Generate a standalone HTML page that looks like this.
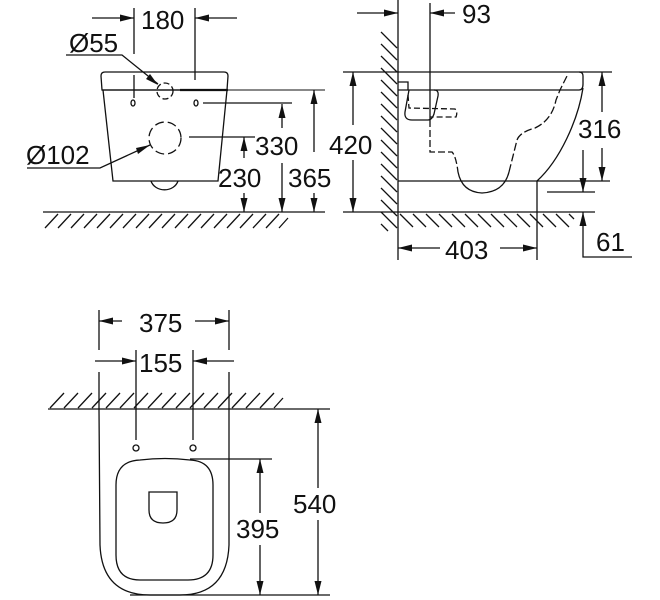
<!DOCTYPE html>
<html><head><meta charset="utf-8"><style>
html,body{margin:0;padding:0;background:#fff;}
svg{display:block;}
text{font-family:"Liberation Sans",sans-serif;font-size:26px;fill:#111;}
</style></head><body>
<svg width="660" height="600" viewBox="0 0 660 600" xmlns="http://www.w3.org/2000/svg">
<g stroke="#111" stroke-width="1.3" fill="none">
<!-- ===== FRONT VIEW ===== -->
<path d="M102,90 L101,76 Q101,72 105,72 L224,72 Q228,72 228,76 L227,90 Z"/>
<line x1="102" y1="90" x2="180" y2="90"/>
<line x1="180" y1="90" x2="228" y2="90" stroke-width="2.2"/>
<line x1="228" y1="90" x2="325" y2="90" stroke-width="1"/>
<path d="M103,90 L113,181 L218,181 L227,90"/>
<path d="M151,181 A14,12 0 0 0 178,181"/>
<circle cx="165" cy="91" r="8" stroke-dasharray="6,3"/>
<circle cx="165" cy="138" r="16" stroke-dasharray="9,4"/>
<ellipse cx="133" cy="103" rx="2" ry="3"/>
<ellipse cx="196" cy="103" rx="2" ry="3"/>
<!-- ext lines -->
<line x1="134" y1="8" x2="134" y2="54"/>
<line x1="134" y1="75" x2="134" y2="98"/>
<line x1="195" y1="8" x2="195" y2="80"/>
<line x1="92" y1="18" x2="134" y2="18"/>
<line x1="195" y1="18" x2="237" y2="18"/>
<line x1="203" y1="103" x2="292" y2="103"/>
<line x1="189" y1="137" x2="255" y2="137"/>
<!-- leaders -->
<polyline points="66,55 122,55 158,84"/>
<polyline points="27,168 100,168 150,145"/>
<!-- dims verticals -->
<line x1="282" y1="104" x2="282" y2="128"/>
<line x1="282" y1="163" x2="282" y2="212"/>
<line x1="244" y1="137" x2="244" y2="158"/>
<line x1="244" y1="193" x2="244" y2="212"/>
<line x1="314" y1="90" x2="314" y2="152"/>
<line x1="314" y1="193" x2="314" y2="212"/>
<!-- floor -->
<line x1="43" y1="212" x2="325" y2="212"/>
<path d="M45,228 L58,214 M58,228 L71,214 M71,228 L84,214 M84,228 L97,214 M97,228 L110,214 M110,228 L123,214 M123,228 L136,214 M136,228 L149,214 M149,228 L162,214 M162,228 L175,214 M175,228 L188,214 M188,228 L201,214 M201,228 L214,214 M214,228 L227,214 M227,228 L240,214 M240,228 L253,214 M253,228 L266,214 M266,228 L279,214 M279,228 L288,218"/>

<!-- ===== SIDE VIEW ===== -->
<line x1="398" y1="0" x2="398" y2="260"/>
<line x1="430" y1="3" x2="430" y2="120"/>
<line x1="357" y1="13" x2="398" y2="13"/>
<line x1="430" y1="13" x2="455" y2="13"/>
<path d="M381,32 L397,48 M381,44 L397,60 M381,56 L397,72 M381,68 L397,84 M381,80 L397,96 M381,92 L397,108 M381,104 L397,120 M381,116 L397,132 M381,128 L397,144 M381,140 L397,156 M381,152 L397,168 M381,164 L397,180 M381,176 L397,192 M381,188 L397,204 M381,200 L397,216 M381,212 L397,228 M381,224 L388,231"/>
<line x1="343" y1="72" x2="612" y2="72"/>
<path d="M398,90 L579,90 Q583,90 583,84 L583,76 Q583,72 579,72"/>
<path d="M583,88 C578,120 560,160 537,181"/>
<line x1="398" y1="181" x2="572" y2="181"/>
<line x1="547" y1="192" x2="595" y2="192"/>
<line x1="572" y1="181" x2="610" y2="181"/>
<polyline points="398,82 408,82 408,90"/>
<path d="M409,90 L405,112 Q404,120 412,120 L428,120 Q432,120 434,114 L438,96 Q439,90 434,90"/>
<path d="M408,95 L409,108 L455,109 Q458,112 456,117 L430,117" stroke-dasharray="6,3"/>
<path d="M430,120 L430,152 L452,152 Q456,156 458,172" stroke-dasharray="7,3"/>
<path d="M458,172 Q462,192 482,193 Q504,192 509,172"/>
<path d="M509,172 L517,140 Q520,132 535,128 Q552,120 556,100 L560,90 L568,74" stroke-dasharray="8,3"/>
<line x1="353" y1="72" x2="353" y2="125"/>
<line x1="353" y1="160" x2="353" y2="212"/>
<line x1="343" y1="212" x2="595" y2="212"/>
<path d="M400,214 L413,227 M413,214 L426,227 M426,214 L439,227 M439,214 L452,227 M452,214 L465,227 M465,214 L478,227 M478,214 L491,227 M491,214 L504,227 M504,214 L517,227 M517,214 L530,227 M530,214 L543,227 M543,214 L556,227 M556,214 L569,227 M569,214 L574,219"/>
<line x1="602" y1="72" x2="602" y2="112"/>
<line x1="602" y1="148" x2="602" y2="181"/>
<line x1="583" y1="150" x2="583" y2="192"/>
<polyline points="583,212 583,257 632,257"/>
<line x1="537" y1="181" x2="537" y2="260"/>
<line x1="398" y1="248" x2="440" y2="248"/>
<line x1="500" y1="248" x2="537" y2="248"/>

<!-- ===== TOP VIEW ===== -->
<line x1="48" y1="409" x2="330" y2="409"/>
<path d="M50,408 L64,393 M64,408 L78,393 M78,408 L92,393 M92,408 L106,393 M106,408 L120,393 M120,408 L134,393 M134,408 L148,393 M148,408 L162,393 M162,408 L176,393 M176,408 L190,393 M190,408 L204,393 M204,408 L218,393 M218,408 L232,393 M232,408 L246,393 M246,408 L260,393 M260,408 L274,393 M274,408 L283,398"/>
<path d="M99,409 L100,545 Q102,595 150,595 L180,595 Q227,595 229,545 L229,409"/>
<path d="M116,485 Q116,461 140,460 Q165,457 190,460 Q213,461 213,485 L213,555 Q213,580 188,580 L140,580 Q116,580 116,555 Z"/>
<path d="M149,492 L177,492 L177,510 Q177,523 163,523 Q149,523 149,510 Z"/>
<circle cx="136" cy="448" r="3"/>
<circle cx="193" cy="448" r="3"/>
<line x1="99" y1="310" x2="99" y2="350"/>
<line x1="99" y1="372" x2="99" y2="409"/>
<line x1="229" y1="310" x2="229" y2="350"/>
<line x1="229" y1="372" x2="229" y2="409"/>
<line x1="99" y1="321" x2="122" y2="321"/>
<line x1="195" y1="321" x2="229" y2="321"/>
<line x1="136" y1="350" x2="136" y2="440"/>
<line x1="193" y1="350" x2="193" y2="440"/>
<line x1="95" y1="361" x2="136" y2="361"/>
<line x1="193" y1="361" x2="234" y2="361"/>
<line x1="190" y1="459" x2="272" y2="459"/>
<line x1="260" y1="459" x2="260" y2="513"/>
<line x1="260" y1="545" x2="260" y2="595"/>
<line x1="130" y1="595" x2="330" y2="595"/>
<line x1="318" y1="409" x2="318" y2="488"/>
<line x1="318" y1="520" x2="318" y2="595"/>
</g>
<g fill="#111" stroke="none">
<!-- arrows front -->
<polygon points="134,18 120,14.5 120,21.5"/>
<polygon points="195,18 209,14.5 209,21.5"/>
<polygon points="158,85 146,79 150,74"/>
<polygon points="150,145 138,154 136,148"/>
<polygon points="282,104 278.5,118 285.5,118"/>
<polygon points="282,212 278.5,198 285.5,198"/>
<polygon points="244,137 240.5,151 247.5,151"/>
<polygon points="244,212 240.5,198 247.5,198"/>
<polygon points="314,90 310.5,104 317.5,104"/>
<polygon points="314,212 310.5,198 317.5,198"/>
<!-- arrows side -->
<polygon points="398,13 384,9.5 384,16.5"/>
<polygon points="430,13 444,9.5 444,16.5"/>
<polygon points="353,72 349.5,86 356.5,86"/>
<polygon points="353,212 349.5,198 356.5,198"/>
<polygon points="602,72 598.5,86 605.5,86"/>
<polygon points="602,181 598.5,167 605.5,167"/>
<polygon points="583,192 579.5,178 586.5,178"/>
<polygon points="583,212 579.5,226 586.5,226"/>
<polygon points="398,248 412,244.5 412,251.5"/>
<polygon points="537,248 523,244.5 523,251.5"/>
<!-- arrows top -->
<polygon points="99,321 113,317.5 113,324.5"/>
<polygon points="229,321 215,317.5 215,324.5"/>
<polygon points="136,361 122,357.5 122,364.5"/>
<polygon points="193,361 207,357.5 207,364.5"/>
<polygon points="260,459 256.5,473 263.5,473"/>
<polygon points="260,595 256.5,581 263.5,581"/>
<polygon points="318,409 314.5,423 321.5,423"/>
<polygon points="318,595 314.5,581 321.5,581"/>
</g>
<text x="141" y="29">180</text>
<text x="69" y="52">Ø55</text>
<text x="26" y="164">Ø102</text>
<text x="255" y="155">330</text>
<text x="218" y="187">230</text>
<text x="288" y="187">365</text>
<text x="462" y="23">93</text>
<text x="329" y="154">420</text>
<text x="578" y="138">316</text>
<text x="596" y="251">61</text>
<text x="445" y="259">403</text>
<text x="139" y="332">375</text>
<text x="139" y="372">155</text>
<text x="236" y="538">395</text>
<text x="293" y="513">540</text>
</svg>
</body></html>
